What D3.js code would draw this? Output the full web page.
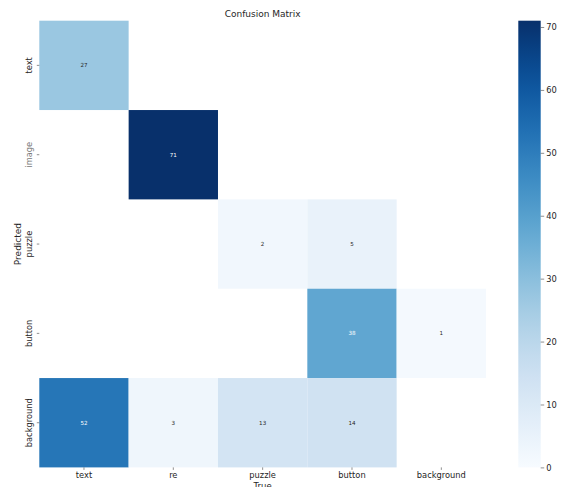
<!DOCTYPE html>
<html lang="en">
<head>
<meta charset="UTF-8">
<script src="https://d3js.org/d3.v7.min.js"></script>
<style>
  body { margin: 0; background: #fff; }
  text { font-family: "DejaVu Sans", sans-serif; }
</style>
</head>
<body>
<div id="chart"></div>
<script>
// Data
const predicted = ["text", "image", "puzzle", "button", "background"];
const actual = ["text", "re", "puzzle", "button", "background"];
// rows = predicted, cols = true
const matrix = [
  [27, 0, 0, 0, 0],
  [0, 71, 0, 0, 0],
  [0, 0, 2, 5, 0],
  [0, 0, 0, 38, 1],
  [52, 3, 13, 14, 0]
];
const colorTicks = [0, 10, 20, 30, 40, 50, 60, 70];
const vmax = 71;

const width = 565, height = 487;
const gridLeft = 39.3, gridTop = 20.7, gridSize = 446.7;

const svg = d3.select("#chart").append("svg")
  .attr("width", width)
  .attr("height", height);

const x = d3.scaleBand().domain(actual).range([gridLeft, gridLeft + gridSize]);
const y = d3.scaleBand().domain(predicted).range([gridTop, gridTop + gridSize]);
const color = d3.scaleSequential(d3.interpolateBlues).domain([0, vmax]);

const cells = [];
matrix.forEach((row, i) => row.forEach((v, j) => {
  if (v > 0) cells.push({ row: predicted[i], col: actual[j], value: v });
}));

// Cells
svg.append("g")
  .selectAll("rect")
  .data(cells)
  .join("rect")
  .attr("x", d => x(d.col))
  .attr("y", d => y(d.row))
  .attr("width", x.bandwidth())
  .attr("height", y.bandwidth())
  .attr("fill", d => color(d.value));

function lum(c) {
  const rgb = d3.rgb(c);
  const f = v => { v /= 255; return v <= 0.03928 ? v / 12.92 : Math.pow((v + 0.055) / 1.055, 2.4); };
  return 0.2126 * f(rgb.r) + 0.7152 * f(rgb.g) + 0.0722 * f(rgb.b);
}

// Annotations
svg.append("g")
  .selectAll("text")
  .data(cells)
  .join("text")
  .attr("x", d => x(d.col) + x.bandwidth() / 2)
  .attr("y", d => y(d.row) + y.bandwidth() / 2)
  .attr("dy", "0.35em")
  .attr("text-anchor", "middle")
  .attr("font-size", 5.6)
  .attr("fill", d => lum(color(d.value)) < 0.408 ? "#fff" : "#262626")
  .text(d => d.value);

// X axis
const xAxis = svg.append("g")
  .attr("transform", `translate(0,${gridTop + gridSize})`)
  .call(d3.axisBottom(x).tickSize(2.5).tickPadding(2));
xAxis.select(".domain").remove();
xAxis.selectAll("line").attr("stroke", "#444").attr("stroke-width", 0.6);
xAxis.selectAll("text").attr("font-size", 8.3).attr("fill", "#262626")
  .attr("font-family", "DejaVu Sans, sans-serif");

// Y axis with rotated labels
const yAxis = svg.append("g")
  .attr("transform", `translate(${gridLeft},0)`)
  .call(d3.axisLeft(y).tickSize(2.5).tickPadding(2));
yAxis.select(".domain").remove();
yAxis.selectAll("line").attr("stroke", "#444").attr("stroke-width", 0.6);
yAxis.selectAll("text")
  .attr("font-size", 8.3)
  .attr("font-family", "DejaVu Sans, sans-serif")
  .attr("fill", d => d === "image" ? "#777" : "#262626")
  .attr("x", null).attr("dy", null)
  .attr("text-anchor", "middle")
  .attr("transform", "translate(-7,0) rotate(-90)");

// Titles
svg.append("text")
  .attr("x", gridLeft + gridSize / 2)
  .attr("y", 17)
  .attr("text-anchor", "middle")
  .attr("font-size", 9)
  .attr("fill", "#262626")
  .text("Confusion Matrix");

svg.append("text")
  .attr("x", gridLeft + gridSize / 2)
  .attr("y", 489)
  .attr("text-anchor", "middle")
  .attr("font-size", 8.5)
  .attr("fill", "#262626")
  .text("True");

svg.append("text")
  .attr("transform", `translate(21,${gridTop + gridSize / 2}) rotate(-90)`)
  .attr("text-anchor", "middle")
  .attr("font-size", 9)
  .attr("fill", "#262626")
  .text("Predicted");

// Colorbar
const cbX = 518.3, cbW = 22.4;
const cy = d3.scaleLinear().domain([0, vmax]).range([gridTop + gridSize, gridTop]);
const defs = svg.append("defs");
const grad = defs.append("linearGradient")
  .attr("id", "cbgrad")
  .attr("x1", 0).attr("y1", 1).attr("x2", 0).attr("y2", 0);
d3.range(0, 1.0001, 0.05).forEach(t => {
  grad.append("stop")
    .attr("offset", t)
    .attr("stop-color", color(t * vmax));
});
svg.append("rect")
  .attr("x", cbX)
  .attr("y", gridTop)
  .attr("width", cbW)
  .attr("height", gridSize)
  .attr("fill", "url(#cbgrad)");

const cAxis = svg.append("g")
  .attr("transform", `translate(${cbX + cbW},0)`)
  .call(d3.axisRight(cy).tickValues(colorTicks).tickSize(3.5).tickPadding(2));
cAxis.select(".domain").remove();
cAxis.selectAll("line").attr("stroke", "#444").attr("stroke-width", 0.6);
cAxis.selectAll("text").attr("font-size", 8.3).attr("fill", "#262626")
  .attr("font-family", "DejaVu Sans, sans-serif");
</script>
</body>
</html>
